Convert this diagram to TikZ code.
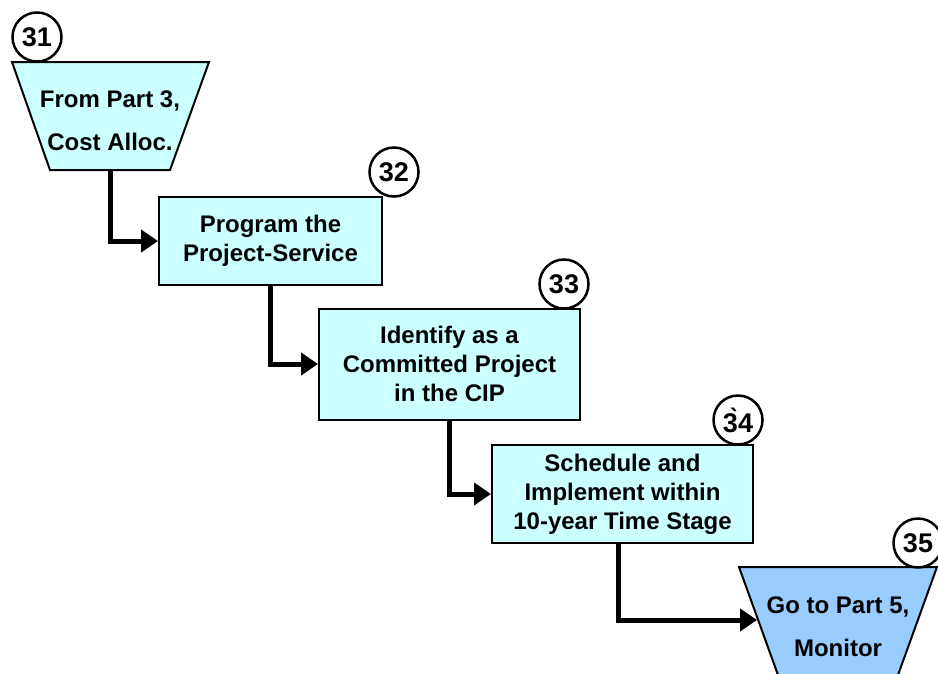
\documentclass[tikz,border=0pt]{standalone}
\usepackage{fontspec}
\setmainfont{Liberation Sans}
\usetikzlibrary{arrows.meta}
\definecolor{paleblue}{HTML}{CCFFFF}
\definecolor{midblue}{HTML}{99CCFF}
\tikzset{
  box/.style={draw=black, line width=2pt, fill=paleblue, align=center, font=\fontsize{24}{29}\selectfont\bfseries, inner sep=0pt},
  trap/.style={draw=black, line width=2pt},
  traptext/.style={align=center, font=\fontsize{24}{43}\selectfont\bfseries, inner sep=0pt},
  num/.style={draw=black, line width=2.5pt, fill=white, circle, minimum size=49pt, inner sep=0pt, font=\fontsize{27}{27}\selectfont\bfseries},
  flow/.style={line width=5pt, -{Triangle[length=17pt, width=22pt]}}
}
\begin{document}
\begin{tikzpicture}[x=1pt, y=-1pt]
\useasboundingbox (0,0) rectangle (938,673);
\clip (0,0) rectangle (938,673);
% trapezoid 31
\draw[trap, fill=paleblue] (12,62) -- (209,62) -- (170,170) -- (50,170) -- cycle;
\node[traptext] (t31) at (110,121) {From Part 3,\\Cost Alloc.};
\coordinate (t31b) at (110,170);
\node[num] (n31) at (37,37) {31};
% box 32
\node[box, minimum width=223pt, minimum height=88pt] (b32) at (270.5,241) {Program the\\Project-Service};
\node[num] (n32) at (394,172) {32};
% box 33
\node[box, minimum width=261pt, minimum height=111pt] (b33) at (449.5,364) {Identify as a\\Committed Project\\in the CIP};
\node[num] (n33) at (564,284) {33};
% box 34
\node[box, minimum width=261pt, minimum height=98pt] (b34) at (622.5,494) {Schedule and\\Implement within\\10-year Time Stage};
\coordinate (b34s) at (618,543);
\node[num] (n34) at (738,420) {3̀4};
% trapezoid 35
\draw[trap, fill=midblue] (739,567) -- (937,567) -- (898,675) -- (778,675) -- cycle;
\node[traptext] (t35) at (838,627) {Go to Part 5,\\Monitor};
\coordinate (t35l) at (757,620);
\node[num] (n35) at (918,543) {35};
% connectors
\draw[flow] (t31b) |- (b32.west);
\draw[flow] (b32.south) |- (b33.west);
\draw[flow] (b33.south) |- (b34.west);
\draw[flow] (b34s) |- (t35l);
\end{tikzpicture}
\end{document}
